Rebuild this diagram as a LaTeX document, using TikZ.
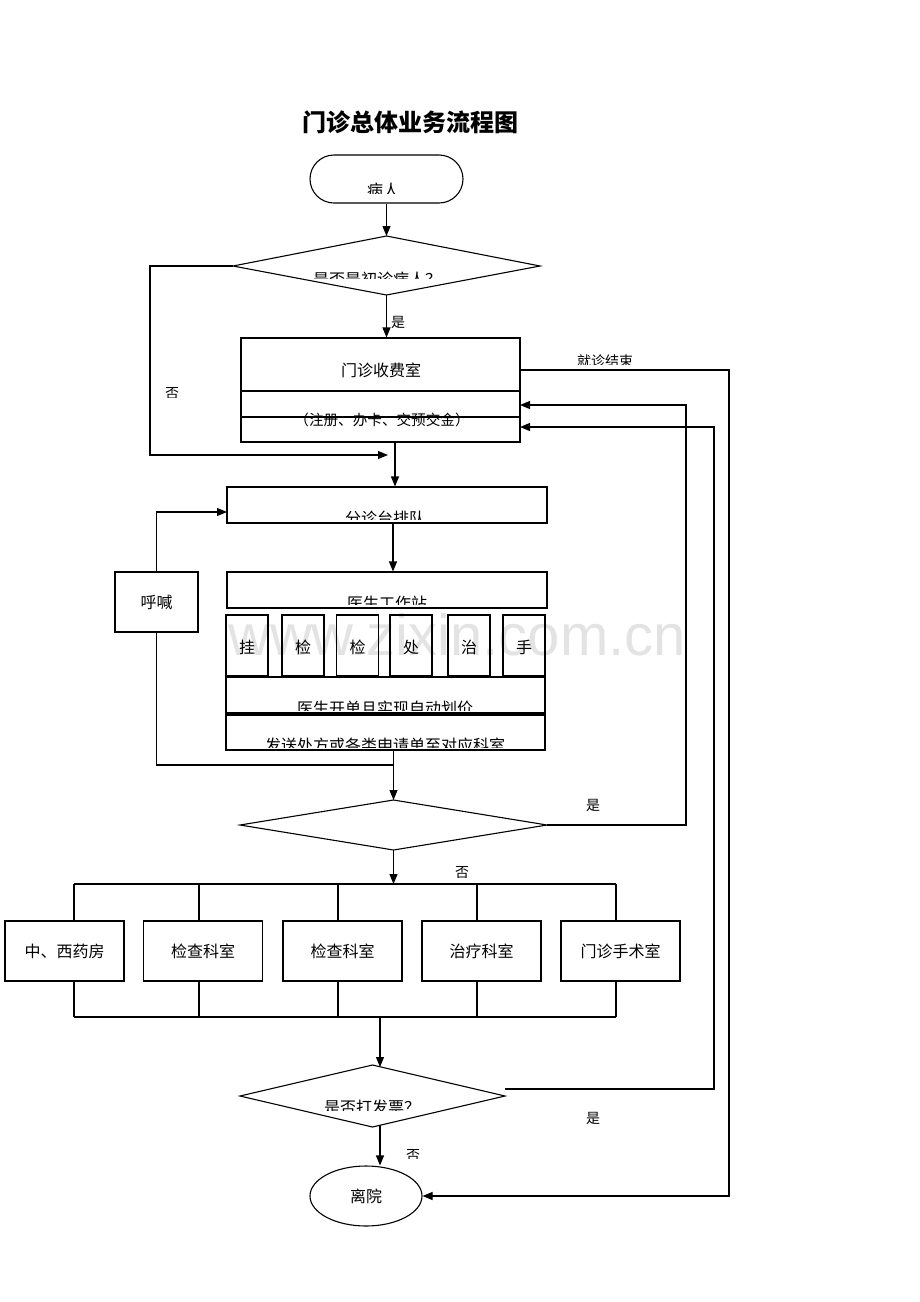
\documentclass[tikz,border=0pt]{standalone}
\usepackage{fontspec}
\setmainfont{Noto Sans CJK SC}
\newfontfamily\wmfont{Liberation Sans}
\usetikzlibrary{arrows.meta,calc,shapes.geometric}
\newcommand\cliptext[6]{%
  \begin{scope}
    \clip (0,0) rectangle (920,#4);
    \node[inner sep=0pt,anchor=base,font=\fontsize{#5}{#5}\selectfont] (#1) at (#2,#3+0.85*#5) {#6};
  \end{scope}}
\begin{document}
\begin{tikzpicture}[x=1pt,y=-1pt,
  ln/.style={line width=1.1pt},
  arr/.style={ln,-{Triangle[length=10pt,width=8pt]}},
  box/.style={draw,ln,inner sep=0pt,rectangle},
  txt/.style={inner sep=0pt,font=\fontsize{16}{18}\selectfont},
  lbl/.style={inner sep=0pt,font=\fontsize{14}{16}\selectfont}]
\useasboundingbox (0,0) rectangle (920,1302);

% watermark
\node[inner sep=0pt,anchor=base,font=\wmfont\fontsize{58}{58}\selectfont,text=black!11] (wm) at (457,655) {www.zixin.com.cn};

% title
\node[inner sep=0pt,font=\bfseries\fontsize{24}{26}\selectfont] (title) at (410,122) {门诊总体业务流程图};

% start
\node[box,minimum width=153pt,minimum height=48pt,rounded corners=24pt] (start) at (386.5,179) {};
\cliptext{tstart}{383}{183}{193}{16}{病人}

% diamond 1
\coordinate (d1n) at (386.5,236);
\coordinate (d1e) at (540,266);
\coordinate (d1s) at (386.5,295);
\coordinate (d1w) at (233,266);
\draw[ln] (d1n) -- (d1e) -- (d1s) -- (d1w) -- cycle;
\cliptext{td1}{377}{272}{278}{16}{是否是初诊病人？}

% fee office
\node[box,minimum width=279pt,minimum height=104pt] (fee) at (380.5,390) {};
\draw[ln] (241,391) -- (520,391);
\draw[ln] (241,417) -- (520,417);
\node[txt] (tfee) at (381,370) {门诊收费室};
\node[inner sep=0pt,font=\fontsize{14.6}{16}\selectfont] (tfee2) at (382,420) {（注册、办卡、交预交金）};

% queue and doctor station
\node[box,minimum width=320pt,minimum height=36pt] (queue) at (387,505) {};
\cliptext{tqueue}{385}{511}{519}{16}{分诊台排队}
\node[box,minimum width=320pt,minimum height=36pt] (doc) at (387,590) {};
\cliptext{tdoc}{387}{596}{604}{16}{医生工作站}

% small boxes
\foreach \cx/\ch/\nm in {247/挂/sa,303/检/sb,357.5/检/sc,411/处/sd,469/治/se,524/手/sf}{
  \node[box,minimum width=42pt,minimum height=61pt,font=\fontsize{16}{18}\selectfont] (\nm) at (\cx,645.5) {};
  \node[inner sep=0pt,font=\fontsize{16}{18}\selectfont] (\nm t) at (\cx,647) {\ch};
}

\node[box,minimum width=319pt,minimum height=36pt] (order) at (385.5,695) {};
\cliptext{torder}{385}{701}{710}{16}{医生开单且实现自动划价}
\node[box,minimum width=319pt,minimum height=35pt] (send) at (385.5,732.5) {};
\cliptext{tsend}{385}{738}{747}{16}{发送处方或各类申请单至对应科室}

% call box
\node[box,minimum width=83pt,minimum height=60pt,font=\fontsize{16}{18}\selectfont] (call) at (156.5,602) {呼喊};

% diamond 2
\coordinate (d2n) at (393.5,800);
\coordinate (d2e) at (547,825);
\coordinate (d2s) at (393.5,850);
\coordinate (d2w) at (240,825);
\draw[ln] (d2n) -- (d2e) -- (d2s) -- (d2w) -- cycle;
\cliptext{td2}{391}{838}{836.5}{16}{是否需要再次交费？}

% departments
\foreach \cx/\vx/\t/\nm in {64.5/74/中、西药房/ka,203/199/检查科室/kb,342.5/338/检查科室/kc,481.5/477/治疗科室/kd,620.5/616/门诊手术室/ke}{
  \node[box,minimum width=119pt,minimum height=60pt,font=\fontsize{16}{18}\selectfont] (\nm) at (\cx,951) {\t};
  \draw[ln] (\vx,884) -- (\vx,921);
  \draw[ln] (\vx,981) -- (\vx,1017);
}
\coordinate (bustop) at (393.5,884);
\coordinate (busbot) at (380,1017);
\draw[ln] (74,884) -- (616,884);
\draw[ln] (74,1017) -- (616,1017);

% diamond 3
\coordinate (d3n) at (372.5,1065);
\coordinate (d3e) at (505,1096);
\coordinate (d3s) at (372.5,1127);
\coordinate (d3w) at (240,1096);
\draw[ln] (d3n) -- (d3e) -- (d3s) -- (d3w) -- cycle;
\cliptext{td3}{372}{1100}{1110}{16}{是否打发票？}
\coordinate (d3in) at (380,1067);
\coordinate (d3out) at (380,1125);
\coordinate (d3r) at (505,1089);

% leave
\node[draw,ln,ellipse,minimum width=112pt,minimum height=60pt,inner sep=0pt,font=\fontsize{16}{18}\selectfont] (leave) at (366,1196) {离院};

% labels
\cliptext{lyes1}{398}{316}{327}{14}{是}
\cliptext{lno1}{172}{387}{397}{14}{否}
\cliptext{lend}{605}{355}{364}{14}{就诊结束}
\cliptext{lyes2}{593}{799}{810}{14}{是}
\cliptext{lno2}{462}{866}{877}{14}{否}
\cliptext{lyes3}{593}{1112}{1123}{14}{是}
\cliptext{lno3}{413}{1149}{1158}{14}{否}

% connectors
\coordinate (feeout) at (395,442);
\coordinate (j1) at (388,455);
\coordinate (qin) at (227,512);
\coordinate (fee1) at (520,370);
\coordinate (fee2) at (520,405);
\coordinate (fee3) at (520,427);

\draw[arr] (start.south -| d1n) -- (d1n);
\draw[arr] (d1s) -- (d1s |- fee.north);
\draw[arr] (d1w) -- (150,266) -- (150,455) -- (j1);
\draw[arr] (feeout) -- (feeout |- queue.north);
\draw[arr] (queue.south -| 393,0) -- (doc.north -| 393,0);
\draw[arr] (call.north) -- (call.north |- qin) -- (qin);
\draw[ln] (call.south) -- (156.5,765) -- (393,765);
\draw[arr] (send.south -| d2n) -- (d2n);
\draw[arr] (d2e) -- (686,825) -- (686,405) -- (fee2);
\draw[arr] (d2s) -- (bustop);
\draw[arr] (busbot) -- (d3in);
\draw[arr] (d3r) -- (714,1089) -- (714,427) -- (fee3);
\draw[arr] (d3out) -- (leave.north -| d3out);
\draw[arr] (fee1) -- (729,370) -- (729,1196) -- (leave.east);
\end{tikzpicture}
\end{document}
